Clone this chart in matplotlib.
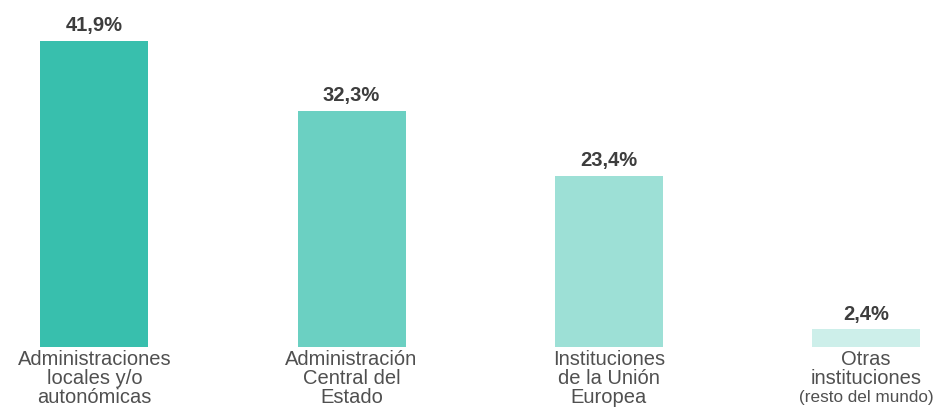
import matplotlib
matplotlib.use('Agg')
import matplotlib.pyplot as plt

categories = ['Administraciones\nlocales y/o\nautonómicas',
              'Administración\nCentral del\nEstado',
              'Instituciones\nde la Unión\nEuropea',
              'Otras\ninstituciones']
sublabels = ['', '', '', '(resto del mundo)']
values = [41.9, 32.3, 23.4, 2.4]
value_labels = ['41,9%', '32,3%', '23,4%', '2,4%']
colors = ['#38bfad', '#6bd0c2', '#9de0d6', '#cdefea']

plt.rcParams['font.family'] = ['Liberation Sans', 'DejaVu Sans']

fig = plt.figure(figsize=(9.33, 4.12), dpi=100)
ax = fig.add_axes([0, 0.1578, 1, 0.8422])

x = list(range(len(values)))
ax.bar(x, values, width=0.42, color=colors)

# value labels above bars
for xi, v, lab in zip(x, values, value_labels):
    ax.annotate(lab, (xi, v), xytext=(0, 4), textcoords='offset points',
                ha='center', va='bottom', fontsize=14.5, fontweight='bold',
                color='#3d3d3d')

# category labels below bars
for xi, cat, sub in zip(x, categories, sublabels):
    n = cat.count('\n') + 1
    ax.annotate(cat, (xi, 0), xytext=(0, -2.5), textcoords='offset points',
                ha='center', va='top', fontsize=14.5, color='#505050',
                linespacing=0.97, annotation_clip=False)
    if sub:
        ax.annotate(sub, (xi, 0), xytext=(0, -2.5 - n * 14.1), textcoords='offset points',
                    ha='center', va='top', fontsize=12.3, color='#505050',
                    annotation_clip=False)

ax.set_xlim(-0.367, 3.261)
ax.set_ylim(0, 47.5)
ax.axis('off')

fig.savefig('out.png', dpi=100)
